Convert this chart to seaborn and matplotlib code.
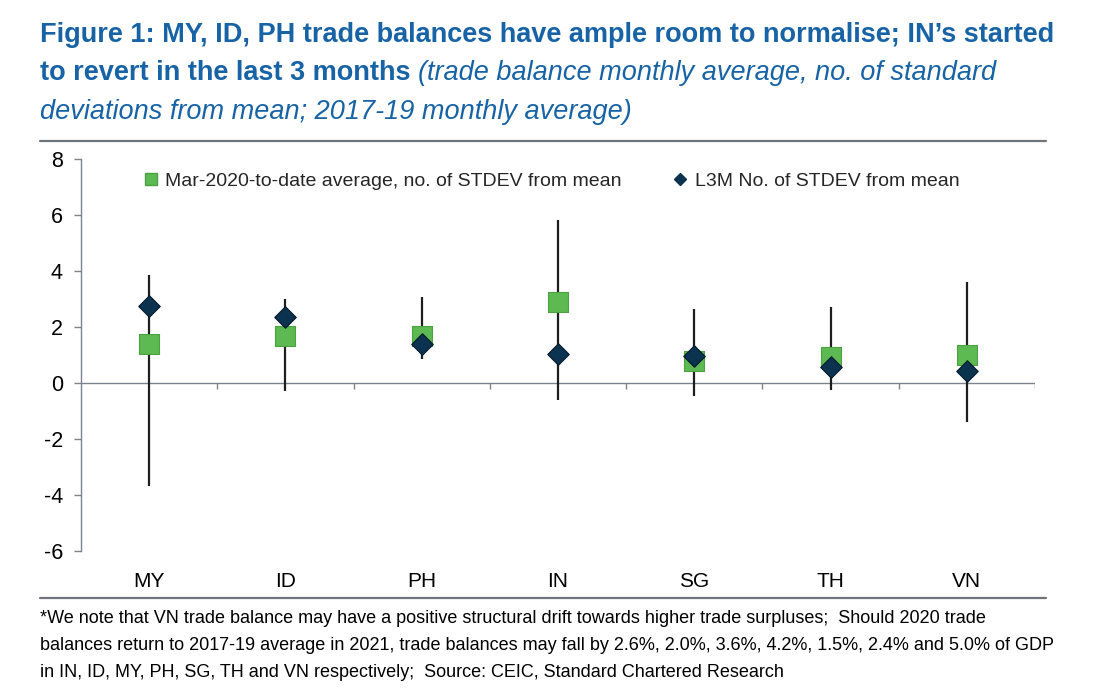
import matplotlib
matplotlib.use("Agg")
import matplotlib.pyplot as plt
from matplotlib.lines import Line2D
import seaborn as sns
import pandas as pd

# ---- data ----
countries = ["MY", "ID", "PH", "IN", "SG", "TH", "VN"]
avg_since_mar2020 = [1.38, 1.69, 1.67, 2.88, 0.80, 0.93, 1.01]
l3m = [2.74, 2.34, 1.40, 1.03, 0.97, 0.56, 0.44]
range_max = [3.87, 3.00, 3.06, 5.83, 2.64, 2.70, 3.59]
range_min = [-3.69, -0.30, 0.86, -0.60, -0.45, -0.26, -1.41]
yticks = [-6, -4, -2, 0, 2, 4, 6, 8]

label_avg = "Mar-2020-to-date average, no. of STDEV from mean"
label_l3m = "L3M No. of STDEV from mean"

df = pd.DataFrame({"country": countries, "avg": avg_since_mar2020, "l3m": l3m,
                   "hi": range_max, "lo": range_min})

sns.set_theme(style="white")
REG = ["Liberation Sans", "DejaVu Sans"]
plt.rcParams["font.family"] = REG

GREEN = "#5DB952"
GREEN_EDGE = "#4CA243"
NAVY = "#0B3350"
AXGRAY = "#7A848E"
TITLE = "#1763A6"

fig = plt.figure(figsize=(11, 6.95), dpi=100)
ax = fig.add_axes([81 / 1100, 1 - 551 / 695, (1035 - 81) / 1100, (551 - 159) / 695])

# range lines
ax.vlines(df["country"], df["lo"], df["hi"], color="#1E1E1E", lw=1.6, zorder=2)
sns.scatterplot(data=df, x="country", y="avg", marker="s", s=205, color=GREEN,
                edgecolor=GREEN_EDGE, linewidth=0.8, ax=ax, zorder=3, legend=False)
sns.scatterplot(data=df, x="country", y="l3m", marker="D", s=120, color=NAVY,
                edgecolor="#061a2a", linewidth=0.8, ax=ax, zorder=4, legend=False)

ax.set_xlim(-0.5, len(countries) - 0.5)
ax.set_ylim(-6, 8)
ax.set_yticks(yticks)
ax.set_yticklabels([str(t) for t in yticks])
ax.set_xlabel("")
ax.set_ylabel("")

for s in ["top", "right", "bottom"]:
    ax.spines[s].set_visible(False)
ax.spines["left"].set_color(AXGRAY)
ax.spines["left"].set_linewidth(1.0)

ax.tick_params(axis="y", left=True, length=5, width=1.0, color=AXGRAY,
               labelsize=15.5, pad=8, labelcolor="black")
ax.tick_params(axis="x", bottom=False, length=0, labelsize=15, pad=15,
               labelcolor="black")

# zero line with category boundary ticks
ax.axhline(0, color=AXGRAY, lw=1.0, zorder=1)
bounds = [i + 0.5 for i in range(len(countries))]
ax.vlines(bounds, -0.22, 0, color=AXGRAY, lw=1.0, zorder=1)

# legend
handles = [
    Line2D([], [], marker="s", ls="", markersize=9, color=GREEN,
           markeredgecolor=GREEN_EDGE, label=label_avg),
    Line2D([], [], marker="D", ls="", markersize=6, color=NAVY, label=label_l3m),
]
leg = ax.legend(handles=handles, ncol=2, frameon=False, fontsize=14,
                loc="center left", bbox_to_anchor=(141 / 1100, 1 - 181 / 695),
                bbox_transform=fig.transFigure, handletextpad=0.25,
                columnspacing=2.5, handlelength=1.0, borderaxespad=0, borderpad=0)

# separator lines
fig.add_artist(Line2D([40 / 1100, 1046 / 1100], [1 - 141 / 695] * 2,
                      transform=fig.transFigure, color="#6E757C", lw=1.6))
fig.add_artist(Line2D([40 / 1100, 1046 / 1100], [1 - 598 / 695] * 2,
                      transform=fig.transFigure, color="#6E757C", lw=1.6))

# title
fig.canvas.draw()
r = fig.canvas.get_renderer()
x0 = 40 / 1100
TS = 19.55
t1 = fig.text(x0, 1 - 41.7 / 695, "Figure 1: MY, ID, PH trade balances have ample room to normalise; IN\u2019s started",
              fontsize=TS, fontweight="bold", color=TITLE, va="baseline")
t2 = fig.text(x0, 1 - 80 / 695, "to revert in the last 3 months ",
              fontsize=TS, fontweight="bold", color=TITLE, va="baseline")
bb = t2.get_window_extent(renderer=r)
fig.text(bb.x1 / fig.bbox.width, 1 - 80 / 695,
         "(trade balance monthly average, no. of standard",
         fontsize=TS, style="italic", color=TITLE, va="baseline")
fig.text(x0, 1 - 119 / 695, "deviations from mean; 2017-19 monthly average)",
         fontsize=TS, style="italic", color=TITLE, va="baseline")

# footnote
foot = [
    "*We note that VN trade balance may have a positive structural drift towards higher trade surpluses;  Should 2020 trade",
    "balances return to 2017-19 average in 2021, trade balances may fall by 2.6%, 2.0%, 3.6%, 4.2%, 1.5%, 2.4% and 5.0% of GDP",
    "in IN, ID, MY, PH, SG, TH and VN respectively;  Source: CEIC, Standard Chartered Research",
]
for i, line in enumerate(foot):
    fig.text(x0, 1 - (623.3 + 26.7 * i) / 695, line, fontsize=13.0,
             color="black", va="baseline")

fig.savefig("out.png", dpi=100, facecolor="white")
